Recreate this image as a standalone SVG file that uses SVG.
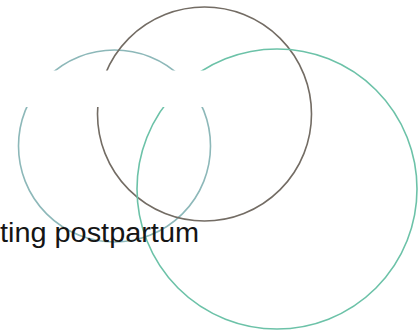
<svg xmlns="http://www.w3.org/2000/svg" width="420" height="332" viewBox="0 0 420 332">
  <style>
    .ring { fill: none; stroke-width: 1.6; }
    .label { font-family: "Liberation Sans", Arial, sans-serif; font-size: 27px; fill: #151515; }
  </style>
  <rect x="0" y="0" width="420" height="332" fill="#ffffff"/>
  <g id="circle-left">
    <circle class="ring" cx="114.5" cy="146" r="96" stroke="#8db8b9"/>
  </g>
  <g id="circle-top">
    <circle class="ring" cx="204.5" cy="114" r="107" stroke="#736c64"/>
  </g>
  <g id="circle-right">
    <circle class="ring" cx="277" cy="189" r="140" stroke="#6cc2a8"/>
  </g>
  <rect id="mask-band" x="0" y="70.5" width="258" height="36.5" fill="#ffffff"/>
  <g id="label">
    <text class="label" x="0" y="241.5" textLength="199" lengthAdjust="spacingAndGlyphs">ting postpartum</text>
  </g>
</svg>
